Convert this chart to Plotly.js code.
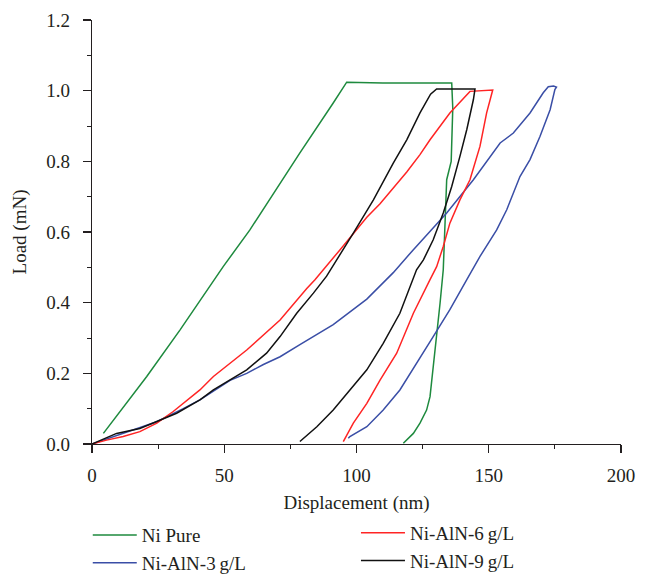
<!DOCTYPE html>
<html>
<head>
<meta charset="utf-8">
<script src="https://cdn.plot.ly/plotly-3.0.1.min.js"></script>
<style>html,body{margin:0;padding:0;background:#fff;}#chart{width:646px;height:579px;}</style>
</head>
<body>
<div id="chart"></div>
<script>
// Ni Pure
const niPureX = [4.3, 20.7, 33.3, 49.6, 59.7, 78.6, 91.2, 96.3, 110, 125, 136.0, 136.4, 135.8, 134.1, 133.5, 132.8, 131.6, 130.3, 129.0, 127.8, 126.5, 124.0, 121.5, 117.7];
const niPureY = [0.030, 0.191, 0.323, 0.502, 0.606, 0.824, 0.965, 1.024, 1.022, 1.023, 1.022, 0.950, 0.800, 0.748, 0.606, 0.493, 0.399, 0.304, 0.210, 0.134, 0.096, 0.059, 0.030, 0.002];
// Ni-AlN-3 g/L
const aln3X = [0, 14.4, 24.5, 34.5, 40.8, 52.2, 58.5, 64.8, 71.1, 78.6, 86.2, 91.2, 103.9, 113.9, 121.5, 134.1, 144.2, 154.3, 159.3, 165.6, 170.6, 172.5, 174.5, 175.6, 175.0, 173.2, 169.4, 165.6, 161.8, 159.3, 156.8, 153.0, 150.0, 146.7, 141.7, 135.3, 129.0, 122.7, 116.4, 110.1, 103.9, 97.5, 96.9];
const aln3Y = [0, 0.038, 0.063, 0.100, 0.125, 0.180, 0.200, 0.225, 0.247, 0.281, 0.314, 0.338, 0.410, 0.485, 0.550, 0.654, 0.748, 0.852, 0.880, 0.937, 0.994, 1.011, 1.013, 1.010, 1.003, 0.946, 0.871, 0.805, 0.757, 0.710, 0.663, 0.606, 0.570, 0.531, 0.465, 0.380, 0.304, 0.229, 0.153, 0.096, 0.049, 0.021, 0.016];
// Ni-AlN-6 g/L
const aln6X = [0, 5.5, 11.8, 18.1, 24.5, 30.7, 40.8, 45.9, 58.5, 71.1, 81.2, 84.3, 93.8, 98.8, 103.9, 108.9, 111.4, 119.0, 124.0, 127.8, 135.3, 142.9, 151.5, 149.2, 146.7, 142.9, 139.1, 135.3, 132.8, 130.3, 127.8, 121.5, 115.2, 108.9, 103.9, 98.8, 95.0];
const aln6Y = [0, 0.011, 0.021, 0.035, 0.059, 0.092, 0.153, 0.191, 0.266, 0.351, 0.440, 0.465, 0.550, 0.597, 0.642, 0.680, 0.702, 0.770, 0.819, 0.861, 0.937, 0.998, 1.002, 0.937, 0.843, 0.748, 0.691, 0.625, 0.559, 0.502, 0.465, 0.370, 0.257, 0.181, 0.115, 0.059, 0.007];
// Ni-AlN-9 g/L
const aln9X = [0, 9.3, 18.1, 24.5, 32.0, 40.8, 45.9, 58.5, 66.0, 71.1, 77.4, 83.7, 88.7, 98.8, 106.4, 113.9, 119.0, 124.0, 128.0, 130.3, 144.8, 144.2, 141.7, 139.1, 136.0, 132.8, 129.0, 125.3, 122.7, 116.4, 110.1, 103.9, 97.5, 91.2, 85.0, 78.6];
const aln9Y = [0, 0.030, 0.044, 0.063, 0.087, 0.125, 0.153, 0.210, 0.257, 0.304, 0.370, 0.427, 0.475, 0.597, 0.691, 0.795, 0.861, 0.937, 0.990, 1.005, 1.005, 0.975, 0.890, 0.814, 0.729, 0.654, 0.578, 0.521, 0.493, 0.370, 0.285, 0.210, 0.153, 0.096, 0.049, 0.007];

const names = ['Ni Pure', 'Ni-AlN-3\u2009g/L', 'Ni-AlN-6\u2009g/L', 'Ni-AlN-9\u2009g/L'];
const colors = ['#1e8a3e', '#3a4ea6', '#ff2424', '#111111'];

const traces = [
  {x: niPureX, y: niPureY, name: names[0], line: {color: colors[0]}, legend: 'legend'},
  {x: aln3X, y: aln3Y, name: names[1], line: {color: colors[1]}, legend: 'legend'},
  {x: aln6X, y: aln6Y, name: names[2], line: {color: colors[2]}, legend: 'legend2'},
  {x: aln9X, y: aln9Y, name: names[3], line: {color: colors[3]}, legend: 'legend2'}
].map(t => Object.assign({type: 'scatter', mode: 'lines'}, t, {line: Object.assign({width: 1.5}, t.line)}));

const FONT = 'Liberation Serif';
const ink = '#231f20';

const axisCommon = {
  showline: true, linecolor: ink, linewidth: 1.3,
  ticks: 'outside', ticklen: 8, tickwidth: 1.2, tickcolor: ink,
  showgrid: false, zeroline: false, mirror: false,
  tickfont: {family: FONT, size: 19, color: ink}
};

const legendFont = {family: FONT, size: 19, color: ink};

const layout = {
  width: 646, height: 579,
  margin: {l: 92, r: 25, t: 20, b: 135, autoexpand: false},
  paper_bgcolor: '#fff', plot_bgcolor: '#fff',
  showlegend: true,
  font: {family: FONT, color: ink},
  xaxis: Object.assign({}, axisCommon, {
    range: [0, 200], tickvals: [0, 50, 100, 150, 200],
    ticklabelstandoff: 6,
    minor: {ticks: 'outside', ticklen: 4, tickwidth: 1, tickcolor: ink, dtick: 25, showgrid: false},
    title: {text: 'Displacement (nm)', font: {family: FONT, size: 19, color: ink}, standoff: 10}
  }),
  yaxis: Object.assign({}, axisCommon, {
    range: [0, 1.2], dtick: 0.2, tick0: 0, tickformat: '.1f',
    ticklabelstandoff: 9,
    minor: {ticks: 'outside', ticklen: 4, tickwidth: 1, tickcolor: ink, dtick: 0.1, showgrid: false},
    title: {text: 'Load (mN)', font: {family: FONT, size: 19, color: ink}, standoff: 14}
  }),
  legend: {x: -0.008, y: -0.17, xanchor: 'left', yanchor: 'top', orientation: 'v', font: legendFont, bgcolor: 'rgba(0,0,0,0)', tracegroupgap: 0, itemwidth: 44},
  legend2: {x: 0.499, y: -0.165, xanchor: 'left', yanchor: 'top', orientation: 'v', font: legendFont, bgcolor: 'rgba(0,0,0,0)', tracegroupgap: 0, itemwidth: 44}
};

Plotly.newPlot('chart', traces, layout, {displayModeBar: false, staticPlot: true});
</script>
</body>
</html>
